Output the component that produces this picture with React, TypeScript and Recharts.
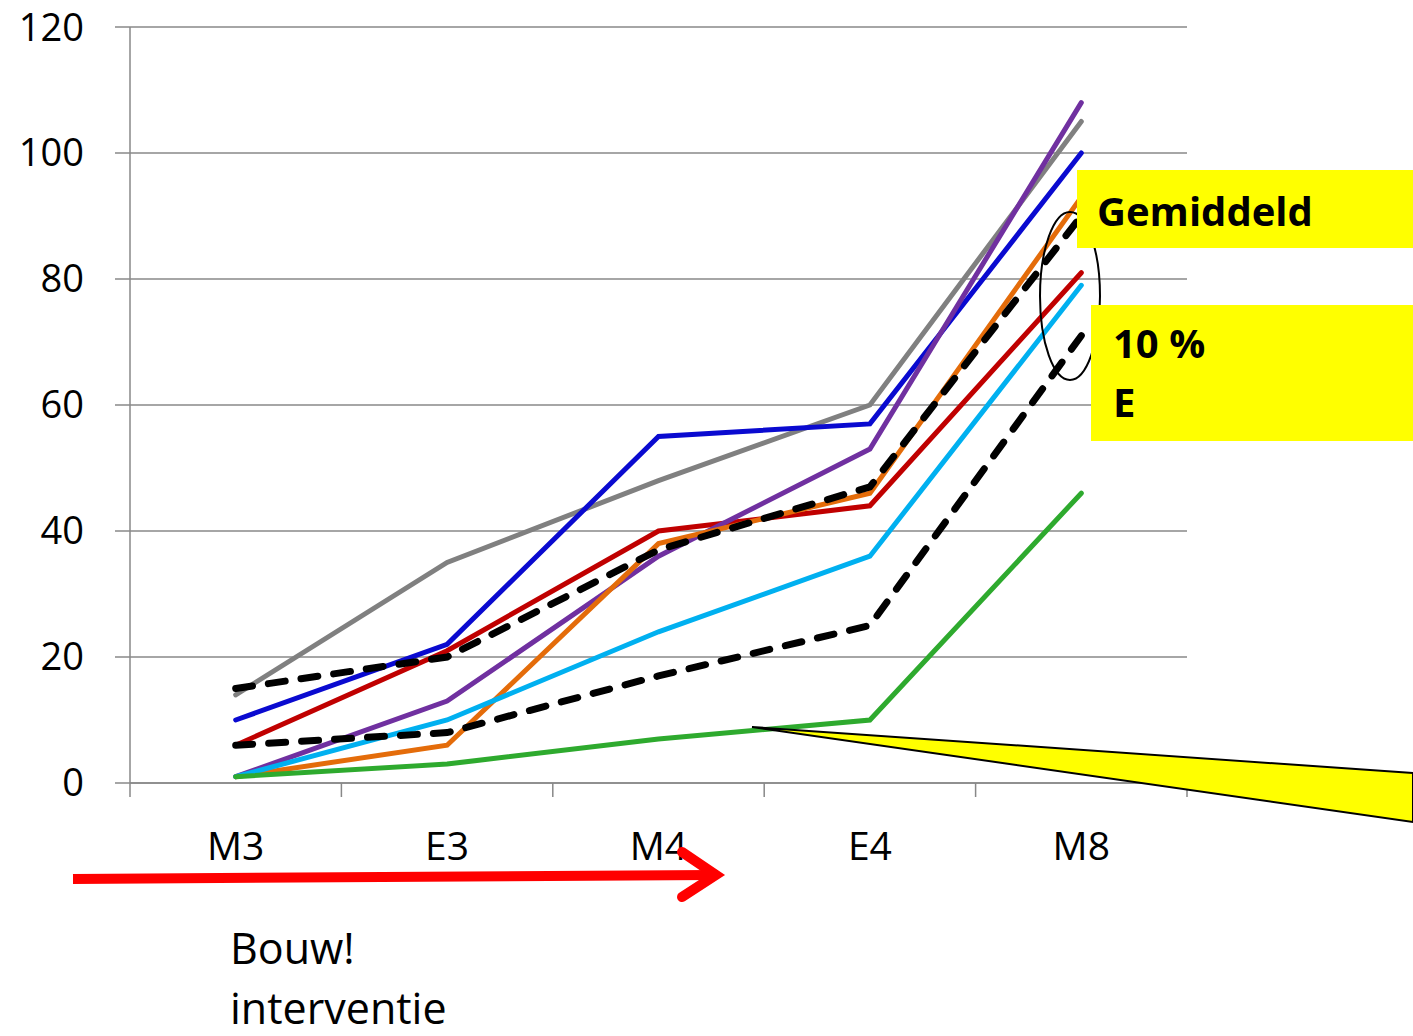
import React from 'react';
import { LineChart, Line, XAxis, YAxis, CartesianGrid } from 'recharts';

const categories = ['M3', 'E3', 'M4', 'E4', 'M8'];
const grijs = [14, 35, 48, 60, 105];
const blauw = [10, 22, 55, 57, 100];
const rood = [6, 21, 40, 44, 81];
const paars = [1, 13, 36, 53, 108];
const oranje = [1, 6, 38, 46, 93];
const lichtblauw = [1, 10, 24, 36, 79];
const groen = [1, 3, 7, 10, 46];
const gemiddeld = [15, 20, 37, 47, 90];
const tienProcent = [6, 8, 17, 25, 71];
const yTicks = [0, 20, 40, 60, 80, 100, 120];

const data = categories.map((c, i) => ({
  x: i + 0.5,
  name: c,
  grijs: grijs[i],
  blauw: blauw[i],
  rood: rood[i],
  paars: paars[i],
  oranje: oranje[i],
  lichtblauw: lichtblauw[i],
  groen: groen[i],
  gemiddeld: gemiddeld[i],
  tienProcent: tienProcent[i],
}));

const xTicks = [0, 0.5, 1, 1.5, 2, 2.5, 3, 3.5, 4, 4.5, 5];
const FONT = '"Open Sans", sans-serif';

const series = [
  { key: 'grijs', color: '#808080' },
  { key: 'blauw', color: '#0a0ad0' },
  { key: 'rood', color: '#c00000' },
  { key: 'paars', color: '#7030a0' },
  { key: 'oranje', color: '#e46c0a' },
  { key: 'lichtblauw', color: '#00b0f0' },
  { key: 'groen', color: '#2eaa2e' },
];

function XTick(props: any) {
  const { x, y, payload } = props;
  const v = payload.value;
  if (Number.isInteger(v)) {
    return <line x1={x} x2={x} y1={y} y2={y + 14} stroke="#888" strokeWidth={1.5} />;
  }
  return (
    <text x={x} y={y + 77} textAnchor="middle" fontSize={39} fontFamily={FONT} fill="#000">
      {categories[Math.round(v - 0.5)]}
    </text>
  );
}

export default function App() {
  return (
    <div style={{ position: 'absolute', left: 0, top: 0, width: 1413, height: 1036, background: '#fff' }}>
      <LineChart width={1413} height={1036} data={data} margin={{ top: 27, right: 226, bottom: 223, left: 0 }}>
        <CartesianGrid vertical={false} stroke="#888" strokeWidth={1.5} />
        <XAxis
          dataKey="x"
          type="number"
          domain={[0, 5]}
          ticks={xTicks}
          interval={0}
          height={30}
          tickLine={false}
          tickSize={0}
          tickMargin={0}
          axisLine={{ stroke: '#888', strokeWidth: 1.5 }}
          tick={XTick}
        />
        <YAxis
          domain={[0, 120]}
          ticks={yTicks}
          width={130}
          tickSize={15}
          tickMargin={31}
          axisLine={{ stroke: '#888', strokeWidth: 1.5 }}
          tickLine={{ stroke: '#888', strokeWidth: 1.5 }}
          tick={{ fontSize: 38, fontFamily: FONT, fill: '#000' }}
        />
        {series.map((s) => (
          <Line
            key={s.key}
            dataKey={s.key}
            stroke={s.color}
            strokeWidth={5}
            strokeLinecap="round"
            dot={false}
            isAnimationActive={false}
          />
        ))}
        <Line dataKey="gemiddeld" stroke="#000" strokeWidth={7} strokeDasharray="17 16" strokeLinecap="round" dot={false} isAnimationActive={false} />
        <Line dataKey="tienProcent" stroke="#000" strokeWidth={7} strokeDasharray="17 16" strokeLinecap="round" dot={false} isAnimationActive={false} />
      </LineChart>
      <svg width={1413} height={1036} style={{ position: 'absolute', left: 0, top: 0, pointerEvents: 'none' }}>
        <ellipse cx={1070} cy={296} rx={30} ry={84} fill="none" stroke="#000" strokeWidth={2} />
        <polygon points="752,727 1413,773 1413,822" fill="#ffff00" stroke="#000" strokeWidth={2} />
        <rect x={1077} y={170} width={336} height={78} fill="#ffff00" />
        <text x={1097} y={226} fontSize={40} fontWeight="bold" fontFamily={FONT}>Gemiddeld</text>
        <rect x={1091} y={305} width={322} height={136} fill="#ffff00" />
        <text x={1113} y={358} fontSize={40} fontWeight="bold" fontFamily={FONT}>10 %</text>
        <text x={1113} y={417} fontSize={40} fontWeight="bold" fontFamily={FONT}>E</text>
        <line x1={73} y1={879} x2={712} y2={875} stroke="#ff0000" strokeWidth={10} />
        <polyline points="682,852 716,875 682,897" fill="none" stroke="#ff0000" strokeWidth={10} strokeLinecap="round" strokeLinejoin="miter" />
        <text x={230} y={964} fontSize={43} fontFamily={FONT}>Bouw!</text>
        <text x={230} y={1024} fontSize={43} fontFamily={FONT}>interventie</text>
      </svg>
    </div>
  );
}
